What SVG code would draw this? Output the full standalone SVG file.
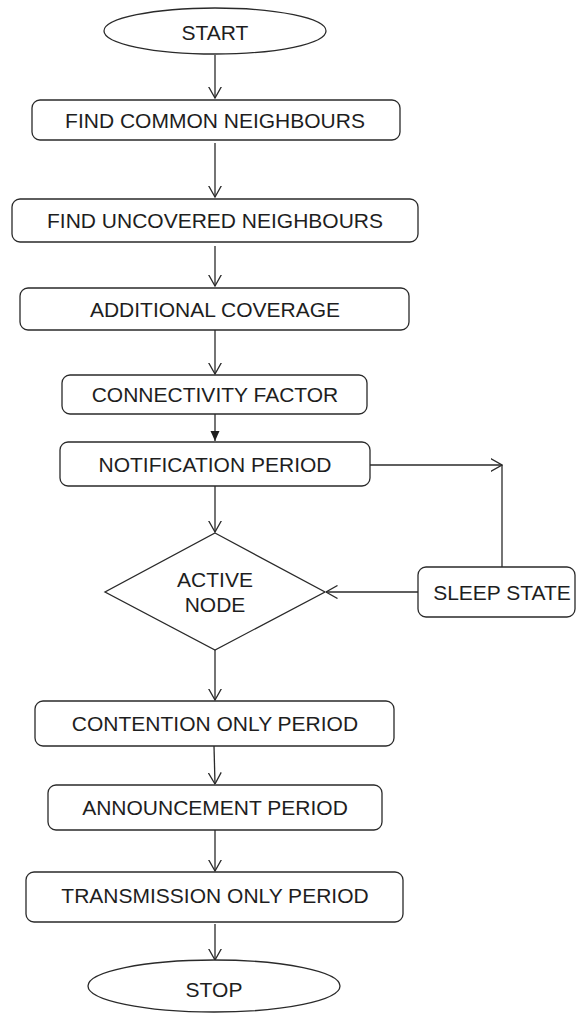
<svg xmlns="http://www.w3.org/2000/svg" width="576" height="1013" viewBox="0 0 576 1013">
<style>
.box{fill:#fff;stroke:#2a2a2a;stroke-width:1.3}
.t{font-family:"Liberation Sans",Arial,sans-serif;font-size:21px;fill:#1e1e1e;text-anchor:middle}
.c{fill:none;stroke:#2a2a2a;stroke-width:1.3}
</style>
<defs>
<marker id="open" viewBox="0 0 12 14" refX="11.5" refY="7" markerWidth="12" markerHeight="14" markerUnits="userSpaceOnUse" orient="auto">
<path d="M0,0.5 L11.5,7 L0,13.5" fill="none" stroke="#2a2a2a" stroke-width="1.3"/>
</marker>
<marker id="solid" viewBox="0 0 10 10" refX="10" refY="5" markerWidth="11" markerHeight="10" markerUnits="userSpaceOnUse" orient="auto">
<path d="M0,0.5 L10,5 L0,9.5 Z" fill="#1e1e1e"/>
</marker>
</defs>
<rect width="576" height="1013" fill="#fff"/>
<g id="connectors">
<line class="c" x1="215" y1="55" x2="215" y2="98" marker-end="url(#open)"/>
<line class="c" x1="215" y1="143" x2="215" y2="197" marker-end="url(#open)"/>
<line class="c" x1="215" y1="246" x2="215" y2="286" marker-end="url(#open)"/>
<line class="c" x1="215" y1="330" x2="215" y2="374" marker-end="url(#open)"/>
<line class="c" x1="215" y1="414" x2="215" y2="441" marker-end="url(#solid)"/>
<line class="c" x1="215" y1="486" x2="215" y2="532" marker-end="url(#open)"/>
<polyline class="c" points="370,465 502,465" marker-end="url(#open)"/>
<line class="c" x1="502" y1="465" x2="502" y2="567"/>
<line class="c" x1="418" y1="592" x2="326" y2="592" marker-end="url(#open)"/>
<line class="c" x1="215" y1="650" x2="215" y2="700" marker-end="url(#open)"/>
<line class="c" x1="214" y1="746" x2="215" y2="784" marker-end="url(#open)"/>
<line class="c" x1="215" y1="830" x2="215" y2="871" marker-end="url(#open)"/>
<line class="c" x1="215" y1="924" x2="215" y2="960" marker-end="url(#open)"/>
</g>
<g id="start">
<ellipse class="box" cx="215" cy="31" rx="111" ry="23"/>
<text class="t" x="215" y="40">START</text>
</g>
<g id="find-common">
<rect class="box" x="32" y="100" width="368" height="40" rx="8"/>
<text class="t" x="215" y="128">FIND COMMON NEIGHBOURS</text>
</g>
<g id="find-uncovered">
<rect class="box" x="12" y="199" width="406" height="43" rx="8"/>
<text class="t" x="215" y="228">FIND UNCOVERED NEIGHBOURS</text>
</g>
<g id="additional-coverage">
<rect class="box" x="20" y="288" width="389" height="42" rx="8"/>
<text class="t" x="215" y="317">ADDITIONAL COVERAGE</text>
</g>
<g id="connectivity-factor">
<rect class="box" x="62" y="375" width="305" height="39" rx="8"/>
<text class="t" x="215" y="402">CONNECTIVITY FACTOR</text>
</g>
<g id="notification-period">
<rect class="box" x="60" y="442" width="310" height="44" rx="8"/>
<text class="t" x="215" y="472">NOTIFICATION PERIOD</text>
</g>
<g id="active-node">
<polygon class="box" points="215,533 325,592 215,650 105,592"/>
<text class="t" x="215" y="587">ACTIVE</text>
<text class="t" x="215" y="612">NODE</text>
</g>
<g id="sleep-state">
<rect class="box" x="418" y="567" width="157" height="50" rx="8"/>
<text class="t" x="502" y="600">SLEEP STATE</text>
</g>
<g id="contention-only-period">
<rect class="box" x="35" y="701" width="359" height="45" rx="8"/>
<text class="t" x="215" y="731">CONTENTION ONLY PERIOD</text>
</g>
<g id="announcement-period">
<rect class="box" x="48" y="785" width="334" height="45" rx="8"/>
<text class="t" x="215" y="815">ANNOUNCEMENT PERIOD</text>
</g>
<g id="transmission-only-period">
<rect class="box" x="26" y="872" width="377" height="50" rx="8"/>
<text class="t" x="215" y="903">TRANSMISSION ONLY PERIOD</text>
</g>
<g id="stop">
<ellipse class="box" cx="214" cy="986" rx="126" ry="26"/>
<text class="t" x="214" y="997">STOP</text>
</g>
</svg>
